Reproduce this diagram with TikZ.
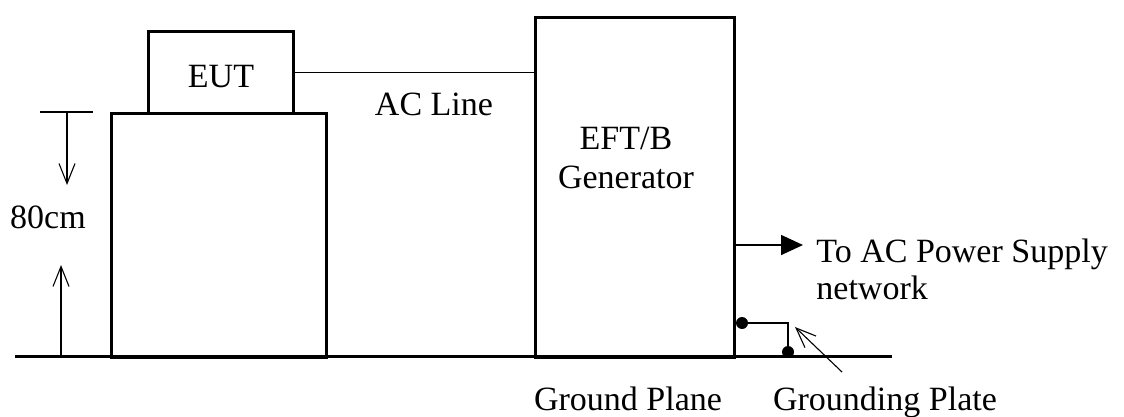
\documentclass[tikz,border=0pt]{standalone}
\usepackage{fontspec}
\setmainfont{Liberation Serif}
\usepackage{tikz}
\usetikzlibrary{arrows.meta,positioning,calc}
\tikzset{
  unitbox/.style={rectangle,draw,line width=1.5pt,inner sep=0pt,anchor=north west},
  tlabel/.style={inner sep=0pt,font=\fontsize{17}{19}\selectfont},
  thinline/.style={line width=.7pt},
  dimarrow/.style={-{Straight Barb[length=10pt,width=8pt]},line width=.55pt},
  feedarrow/.style={-{Triangle[length=11pt,width=10pt]},line width=.8pt},
  gnddot/.style={circle,fill,inner sep=0pt,minimum size=6pt}
}
\begin{document}
\begin{tikzpicture}[x=.5pt,y=-.5pt]
  \useasboundingbox (0,0) rectangle (1124,417);
  \node[unitbox,minimum width=107.5pt,minimum height=122pt] (table) at (110,112) {};
  \node[unitbox,minimum width=72.5pt,minimum height=41pt] (eut) at (147,30) {};
  \node[unitbox,minimum width=99.5pt,minimum height=170pt] (gen) at (534,16) {};
  \node[tlabel,anchor=base] (eutlabel) at (221,88) {EUT};
  \node[tlabel,anchor=base,align=center,font=\fontsize{17}{19.5}\selectfont] (genlabel) at (626,188) {EFT/B\\Generator};
  \node[tlabel,anchor=base] (acline) at (434,116) {AC Line};
  \node[tlabel,anchor=base] (height) at (48,228) {80cm};
  \node[tlabel,anchor=base west,align=left,font=\fontsize{17}{18.5}\selectfont] (supply) at (816,299) {To AC Power Supply\\network};
  \node[tlabel,anchor=base] (plane) at (628,410) {Ground Plane};
  \node[tlabel,anchor=base] (plate) at (885,410) {Grounding Plate};
  \coordinate (gl) at (15,356);
  \coordinate (gr) at (892,356);
  \coordinate (tickl) at (40,112);
  \coordinate (tickr) at (93,112);
  \coordinate (downend) at (67,185);
  \coordinate (upend) at (61,265);
  \coordinate (mains) at (803,245);
  \coordinate (bond) at (788,352);
  \coordinate (platetip) at (795,327);
  \coordinate (platetail) at (842,372);
  \draw[line width=1.5pt] (gl) -- (gr);
  \draw[thinline] (eut.east) -- (eut.east -| gen.west);
  \draw[thinline] (tickl) -- (tickr);
  \draw[dimarrow] (downend |- tickl) -- (downend);
  \draw[dimarrow] (upend |- gl) -- (upend);
  \draw[feedarrow] (gen.east |- mains) -- (mains);
  \node[gnddot] (g1) at (742,323) {};
  \node[gnddot] (g2) at (bond) {};
  \draw[line width=.9pt] (g1.center) -| (g2.center);
  \draw[dimarrow] (platetail) -- (platetip);
\end{tikzpicture}
\end{document}
